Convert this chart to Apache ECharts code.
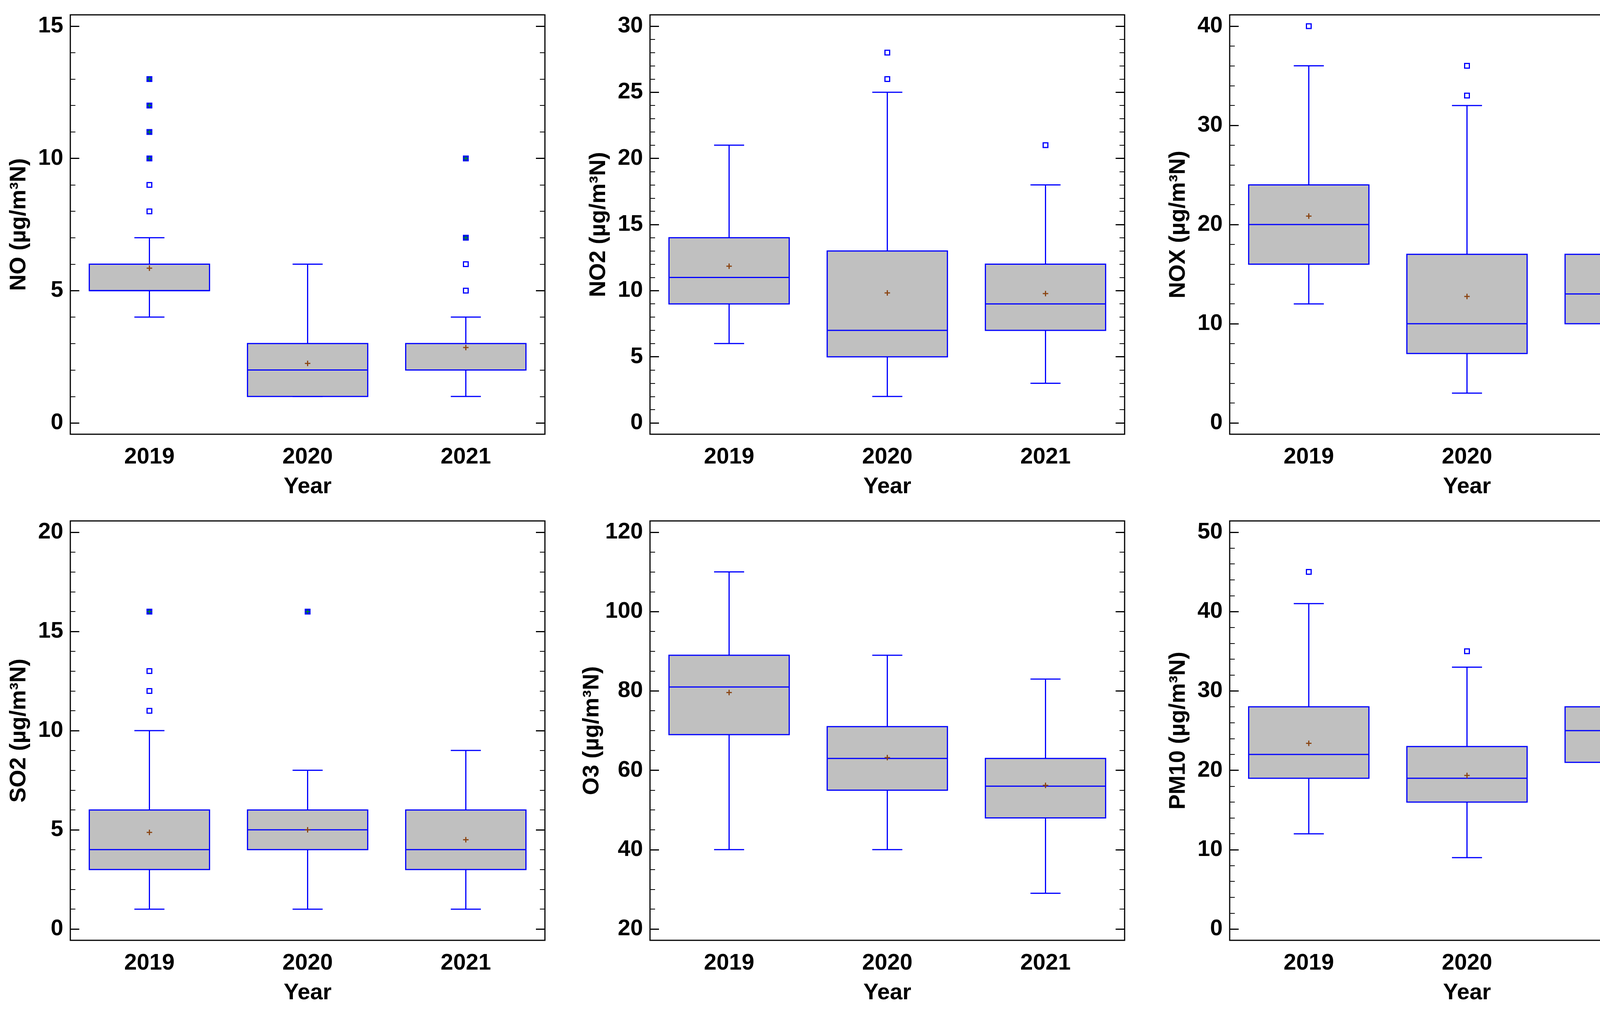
<!DOCTYPE html>
<html>
<head>
<meta charset="utf-8">
<script src="https://cdn.jsdelivr.net/npm/echarts@6/dist/echarts.min.js"></script>
<style>
html,body{margin:0;padding:0;background:#fff;}
#chart{width:4380px;height:2589px;}
</style>
</head>
<body>
<div id="chart"></div>
<script>
// ---------- DATA ----------
const years = ['2019', '2020', '2021'];

// stats per year: [lower whisker, Q1, median, Q3, upper whisker]
const noStats   = [[4, 5, 5, 6, 7], [1, 1, 2, 3, 6], [1, 2, 2, 3, 4]];
const noMeans   = [5.85, 2.25, 2.85];
const noOutliers = [[0, 8], [0, 9], [2, 5], [2, 6]];
const noOutliersMarked = [[0, 10], [0, 11], [0, 12], [0, 13], [2, 7], [2, 10]];
const noTicks = [0, 5, 10, 15];
const noMinorStep = 1;

const no2Stats  = [[6, 9, 11, 14, 21], [2, 5, 7, 13, 25], [3, 7, 9, 12, 18]];
const no2Means  = [11.85, 9.83, 9.78];
const no2Outliers = [[1, 26], [1, 28], [2, 21]];
const no2OutliersMarked = [];
const no2Ticks = [0, 5, 10, 15, 20, 25, 30];
const no2MinorStep = 1;

const noxStats  = [[12, 16, 20, 24, 36], [3, 7, 10, 17, 32], [4, 10, 13, 17, 26]];
const noxMeans  = [20.85, 12.75, 14.0];
const noxOutliers = [[0, 40], [1, 33], [1, 36], [2, 28], [2, 30], [2, 34]];
const noxOutliersMarked = [];
const noxTicks = [0, 10, 20, 30, 40];
const noxMinorStep = 2;

const so2Stats  = [[1, 3, 4, 6, 10], [1, 4, 5, 6, 8], [1, 3, 4, 6, 9]];
const so2Means  = [4.87, 5.0, 4.5];
const so2Outliers = [[0, 11], [0, 12], [0, 13]];
const so2OutliersMarked = [[0, 16], [1, 16]];
const so2Ticks = [0, 5, 10, 15, 20];
const so2MinorStep = 1;

const o3Stats   = [[40, 69, 81, 89, 110], [40, 55, 63, 71, 89], [29, 48, 56, 63, 83]];
const o3Means   = [79.6, 63.2, 56.2];
const o3Outliers = [];
const o3OutliersMarked = [];
const o3Ticks = [20, 40, 60, 80, 100, 120];
const o3MinorStep = 5;

const pm10Stats = [[12, 19, 22, 28, 41], [9, 16, 19, 23, 33], [13, 21, 25, 28, 37]];
const pm10Means = [23.4, 19.35, 25.0];
const pm10Outliers = [[0, 45], [1, 35], [2, 49], [2, 9]];
const pm10OutliersMarked = [];
const pm10Ticks = [0, 10, 20, 30, 40, 50];
const pm10MinorStep = 2;

const yNames = ['NO (µg/m³N)', 'NO2 (µg/m³N)', 'NOX (µg/m³N)', 'SO2 (µg/m³N)', 'O3 (µg/m³N)', 'PM10 (µg/m³N)'];
const xName = 'Year';

// ---------- BUILD ----------
const panels = [
  {stats: noStats, means: noMeans, out: noOutliers, outM: noOutliersMarked, ticks: noTicks, minor: noMinorStep},
  {stats: no2Stats, means: no2Means, out: no2Outliers, outM: no2OutliersMarked, ticks: no2Ticks, minor: no2MinorStep},
  {stats: noxStats, means: noxMeans, out: noxOutliers, outM: noxOutliersMarked, ticks: noxTicks, minor: noxMinorStep},
  {stats: so2Stats, means: so2Means, out: so2Outliers, outM: so2OutliersMarked, ticks: so2Ticks, minor: so2MinorStep},
  {stats: o3Stats, means: o3Means, out: o3Outliers, outM: o3OutliersMarked, ticks: o3Ticks, minor: o3MinorStep},
  {stats: pm10Stats, means: pm10Means, out: pm10Outliers, outM: pm10OutliersMarked, ticks: pm10Ticks, minor: pm10MinorStep}
];

const FONT = 'Liberation Sans, Arial, sans-serif';
const BLUE = '#0000FF';
const colLeft = [180, 1664, 3148];
const rowTop = [38, 1334];
const gW = 1215, gH = 1074;

const grids = [], xAxes = [], yAxes = [], series = [];

function renderBox(params, api) {
  const x = api.value(0);
  const low = api.coord([x, api.value(1)]);
  const q1 = api.coord([x, api.value(2)]);
  const med = api.coord([x, api.value(3)]);
  const q3 = api.coord([x, api.value(4)]);
  const high = api.coord([x, api.value(5)]);
  const band = api.size([1, 0])[0];
  const bw = band * 0.76, cw = band * 0.19;
  const cx = low[0];
  const ls = {stroke: BLUE, lineWidth: 3};
  return {
    type: 'group',
    children: [
      {type: 'line', shape: {x1: cx, y1: q3[1], x2: cx, y2: high[1]}, style: ls},
      {type: 'line', shape: {x1: cx, y1: q1[1], x2: cx, y2: low[1]}, style: ls},
      {type: 'line', shape: {x1: cx - cw / 2, y1: high[1], x2: cx + cw / 2, y2: high[1]}, style: ls},
      {type: 'line', shape: {x1: cx - cw / 2, y1: low[1], x2: cx + cw / 2, y2: low[1]}, style: ls},
      {type: 'rect', shape: {x: cx - bw / 2, y: q3[1], width: bw, height: q1[1] - q3[1]},
        style: {fill: '#C0C0C0', stroke: BLUE, lineWidth: 3}},
      {type: 'line', shape: {x1: cx - bw / 2, y1: med[1], x2: cx + bw / 2, y2: med[1]}, style: ls}
    ]
  };
}

function renderMean(params, api) {
  const p = api.coord([api.value(0), api.value(1)]);
  const s = 7;
  const st = {stroke: '#8B4513', lineWidth: 3};
  return {
    type: 'group',
    children: [
      {type: 'line', shape: {x1: p[0] - s, y1: p[1], x2: p[0] + s, y2: p[1]}, style: st},
      {type: 'line', shape: {x1: p[0], y1: p[1] - s, x2: p[0], y2: p[1] + s}, style: st}
    ]
  };
}

function makeOutlierRenderer(marked) {
  return function (params, api) {
    const p = api.coord([api.value(0), api.value(1)]);
    const h = 6;
    const children = [
      {type: 'rect', shape: {x: p[0] - h, y: p[1] - h, width: 2 * h, height: 2 * h},
        style: {fill: marked ? BLUE : '#fff', stroke: BLUE, lineWidth: 3}}
    ];
    if (marked) {
      children.push({type: 'line', shape: {x1: p[0] - h, y1: p[1], x2: p[0] + h, y2: p[1]}, style: {stroke: '#00A000', lineWidth: 2}});
      children.push({type: 'line', shape: {x1: p[0], y1: p[1] - h, x2: p[0], y2: p[1] + h}, style: {stroke: '#00A000', lineWidth: 2}});
    }
    return {type: 'group', children: children};
  };
}

panels.forEach((pn, g) => {
  const col = g % 3, row = Math.floor(g / 3);
  grids.push({
    left: colLeft[col], top: rowTop[row], width: gW, height: gH,
    show: true, borderColor: '#000', borderWidth: 3, backgroundColor: 'transparent'
  });
  xAxes.push({
    gridIndex: g, type: 'category', data: years, boundaryGap: true,
    axisLine: {show: false}, axisTick: {show: false}, splitLine: {show: false},
    axisLabel: {fontSize: 58, fontWeight: 'bold', color: '#000', fontFamily: FONT, margin: 30},
    name: xName, nameLocation: 'middle', nameGap: 106,
    nameTextStyle: {fontSize: 58, fontWeight: 'bold', color: '#000', fontFamily: FONT}
  });
  const lo = pn.ticks[0], hi = pn.ticks[pn.ticks.length - 1];
  const pad = (hi - lo) * 0.0285;
  const minorVals = [];
  for (let v = lo; v <= hi + 1e-9; v += pn.minor) minorVals.push(v);
  const base = {gridIndex: g, type: 'value', min: lo - pad, max: hi + pad, splitLine: {show: false},
    axisLine: {show: false}};
  yAxes.push(Object.assign({}, base, {
    position: 'left',
    axisTick: {show: true, inside: true, length: 23, customValues: pn.ticks, lineStyle: {color: '#000', width: 3}},
    axisLabel: {show: true, customValues: pn.ticks, fontSize: 58, fontWeight: 'bold', color: '#000', fontFamily: FONT, margin: 18},
    name: yNames[g], nameLocation: 'middle', nameGap: 102, nameRotate: 90,
    nameTextStyle: {fontSize: 58, fontWeight: 'bold', color: '#000', fontFamily: FONT}
  }));
  yAxes.push(Object.assign({}, base, {
    position: 'left',
    axisTick: {show: true, inside: true, length: 13, customValues: minorVals, lineStyle: {color: '#000', width: 2}},
    axisLabel: {show: false}
  }));
  yAxes.push(Object.assign({}, base, {
    position: 'right',
    axisTick: {show: true, inside: true, length: 23, customValues: pn.ticks, lineStyle: {color: '#000', width: 3}},
    axisLabel: {show: false}
  }));
  yAxes.push(Object.assign({}, base, {
    position: 'right',
    axisTick: {show: true, inside: true, length: 13, customValues: minorVals, lineStyle: {color: '#000', width: 2}},
    axisLabel: {show: false}
  }));
  const yi = g * 4;
  series.push({
    type: 'custom', xAxisIndex: g, yAxisIndex: yi, renderItem: renderBox,
    encode: {x: 0, y: [1, 2, 3, 4, 5]},
    data: pn.stats.map((s, i) => [i].concat(s)), z: 2
  });
  series.push({
    type: 'custom', xAxisIndex: g, yAxisIndex: yi, renderItem: renderMean,
    encode: {x: 0, y: 1}, data: pn.means.map((m, i) => [i, m]), z: 3
  });
  series.push({
    type: 'custom', xAxisIndex: g, yAxisIndex: yi, renderItem: makeOutlierRenderer(false),
    encode: {x: 0, y: 1}, data: pn.out, z: 3
  });
  series.push({
    type: 'custom', xAxisIndex: g, yAxisIndex: yi, renderItem: makeOutlierRenderer(true),
    encode: {x: 0, y: 1}, data: pn.outM, z: 3
  });
});

const chart = echarts.init(document.getElementById('chart'), null, {renderer: 'canvas'});
chart.setOption({
  backgroundColor: '#fff',
  animation: false,
  grid: grids,
  xAxis: xAxes,
  yAxis: yAxes,
  series: series
});
</script>
</body>
</html>
